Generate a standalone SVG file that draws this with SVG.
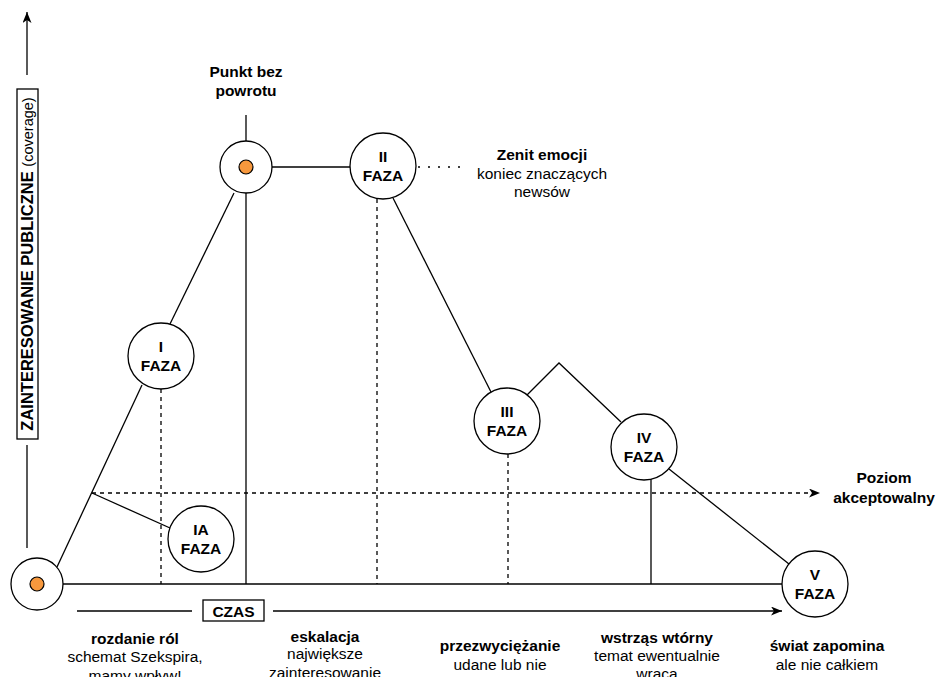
<svg xmlns="http://www.w3.org/2000/svg" width="937" height="677" viewBox="0 0 937 677">
<style>
text{font-family:"Liberation Sans",Arial,sans-serif;font-size:15.5px;fill:#000;text-anchor:middle}
.b{font-weight:bold}
.ln{stroke:#000;stroke-width:1.3;fill:none}
.ds{stroke-dasharray:4 4}
.dt{stroke-dasharray:2 8}
.nd{fill:#fff;stroke:#000;stroke-width:1.3}
.dot{fill:#F7983D;stroke:#000;stroke-width:1.2}
</style>
<defs>
<marker id="ar" markerUnits="userSpaceOnUse" markerWidth="12" markerHeight="10" refX="11" refY="4.5" orient="auto">
<path d="M0,0 L11,4.5 L0,9 L3,4.5 z" fill="#000"/>
</marker>
</defs>
<rect width="937" height="677" fill="#fff"/>

<g id="connectors">
<line class="ln" x1="27" y1="75" x2="27" y2="12" marker-end="url(#ar)"/>
<line class="ln" x1="27" y1="445" x2="27" y2="548"/>
<line class="ln" x1="57" y1="567" x2="142" y2="385"/>
<line class="ln" x1="170" y1="324" x2="234" y2="193"/>
<line class="ln" x1="92" y1="493" x2="170" y2="528"/>
<line class="ln" x1="246" y1="115" x2="246" y2="141"/>
<line class="ln" x1="272" y1="167" x2="350" y2="167"/>
<line class="ln dt" x1="418" y1="167" x2="462" y2="167"/>
<line class="ln" x1="393" y1="198" x2="491" y2="392"/>
<polyline class="ln" points="527,395 559,363 621,422"/>
<line class="ln" x1="669" y1="469" x2="789" y2="564"/>
<line class="ln ds" x1="161" y1="389" x2="161" y2="584"/>
<line class="ln" x1="246" y1="193" x2="246" y2="584"/>
<line class="ln ds" x1="377" y1="199" x2="377" y2="584"/>
<line class="ln ds" x1="508" y1="454" x2="508" y2="584"/>
<line class="ln" x1="651" y1="479" x2="651" y2="584"/>
<line class="ln" x1="63" y1="584" x2="782" y2="584"/>
<line class="ln ds" x1="92" y1="493" x2="820" y2="493" marker-end="url(#ar)"/>
<line class="ln" x1="77" y1="611" x2="192" y2="611"/>
<line class="ln" x1="273" y1="611" x2="782" y2="611" marker-end="url(#ar)"/>
</g>

<g id="axis-y-label">
<rect x="17" y="89" width="21" height="350" fill="#fff" stroke="#000" stroke-width="1.3"/>
<text transform="translate(32.5,264) rotate(-90)"><tspan class="b" style="font-size:16.5px">ZAINTERESOWANIE PUBLICZNE </tspan><tspan style="font-size:14.5px">(coverage)</tspan></text>
</g>

<g id="axis-x-label">
<rect x="203" y="600" width="61" height="21" fill="#fff" stroke="#000" stroke-width="1.3"/>
<text class="b" x="233.5" y="616.5">CZAS</text>
</g>

<g id="start">
<circle class="nd" cx="37" cy="584" r="26"/>
<circle class="dot" cx="37" cy="584" r="7"/>
</g>

<g id="punkt">
<circle class="nd" cx="246" cy="167" r="26"/>
<circle class="dot" cx="246" cy="167" r="7"/>
<text class="b" x="246" y="77">Punkt bez</text>
<text class="b" x="246" y="96">powrotu</text>
</g>

<g id="faza1">
<circle class="nd" cx="161" cy="356" r="33"/>
<text class="b" x="161" y="352">I</text>
<text class="b" x="161" y="371">FAZA</text>
</g>

<g id="faza1a">
<circle class="nd" cx="201" cy="539" r="33"/>
<text class="b" x="201" y="535">IA</text>
<text class="b" x="201" y="554">FAZA</text>
</g>

<g id="faza2">
<circle class="nd" cx="383" cy="166" r="33"/>
<text class="b" x="383" y="162">II</text>
<text class="b" x="383" y="181">FAZA</text>
</g>

<g id="faza3">
<circle class="nd" cx="507" cy="421" r="33"/>
<text class="b" x="507" y="417">III</text>
<text class="b" x="507" y="436">FAZA</text>
</g>

<g id="faza4">
<circle class="nd" cx="644" cy="447" r="33"/>
<text class="b" x="644" y="443">IV</text>
<text class="b" x="644" y="462">FAZA</text>
</g>

<g id="faza5">
<circle class="nd" cx="815" cy="584" r="33"/>
<text class="b" x="815" y="580">V</text>
<text class="b" x="815" y="599">FAZA</text>
</g>

<g id="zenit">
<text class="b" x="542" y="160">Zenit emocji</text>
<text x="542" y="178.5">koniec znaczących</text>
<text x="542" y="197">newsów</text>
</g>

<g id="poziom">
<text class="b" x="884" y="482.5">Poziom</text>
<text class="b" x="884" y="503">akceptowalny</text>
</g>

<g id="label-rozdanie">
<text class="b" x="135" y="643.5">rozdanie ról</text>
<text x="135" y="662">schemat Szekspira,</text>
<text x="135" y="680.5">mamy wpływ!</text>
</g>

<g id="label-eskalacja">
<text class="b" x="325" y="641.5">eskalacja</text>
<text x="325" y="659">największe</text>
<text x="325" y="677.5">zainteresowanie</text>
</g>

<g id="label-przezwyciezanie">
<text class="b" x="500" y="650.5">przezwyciężanie</text>
<text x="500" y="669.5">udane lub nie</text>
</g>

<g id="label-wstrzas">
<text class="b" x="657" y="642.5">wstrząs wtórny</text>
<text x="657" y="660.5">temat ewentualnie</text>
<text x="657" y="679">wraca</text>
</g>

<g id="label-swiat">
<text class="b" x="827" y="650.5">świat zapomina</text>
<text x="827" y="669.5">ale nie całkiem</text>
</g>
</svg>
